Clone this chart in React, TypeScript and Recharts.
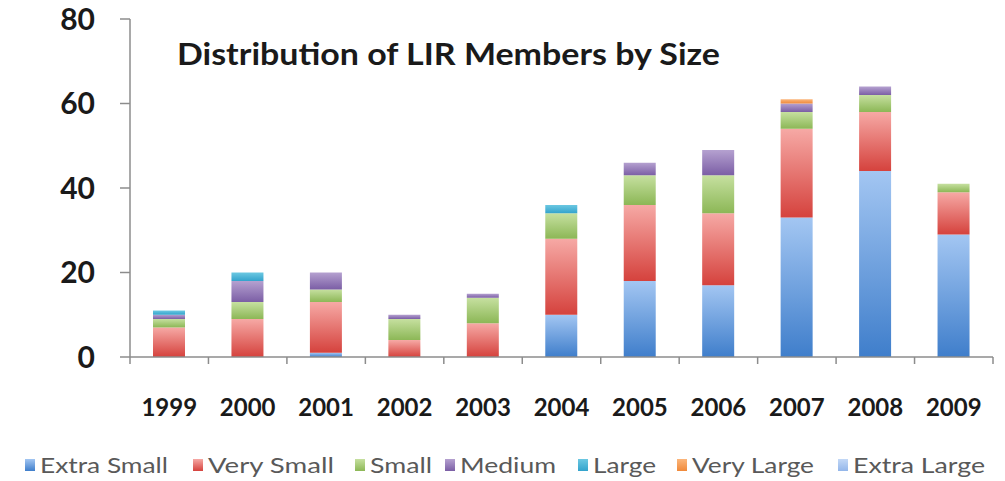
import React from 'react';
import { BarChart, Bar, XAxis, YAxis, Legend } from 'recharts';

const years = ['1999', '2000', '2001', '2002', '2003', '2004', '2005', '2006', '2007', '2008', '2009'];
const extraSmall = [0, 0, 1, 0, 0, 10, 18, 17, 33, 44, 29];
const verySmall = [7, 9, 12, 4, 8, 18, 18, 17, 21, 14, 10];
const small = [2, 4, 3, 5, 6, 6, 7, 9, 4, 4, 2];
const medium = [1, 5, 4, 1, 1, 0, 3, 6, 2, 2, 0];
const large = [1, 2, 0, 0, 0, 2, 0, 0, 0, 0, 0];
const veryLarge = [0, 0, 0, 0, 0, 0, 0, 0, 1, 0, 0];
const extraLarge = [0, 0, 0, 0, 0, 0, 0, 0, 0, 0, 0];
const yTicks = [0, 20, 40, 60, 80];
const title = 'Distribution of LIR Members by Size';

const seriesNames = ['Extra Small', 'Very Small', 'Small', 'Medium', 'Large', 'Very Large', 'Extra Large'];
const seriesKeys = ['xs', 'vs', 's', 'm', 'l', 'vl', 'xl'];
const seriesValues = [extraSmall, verySmall, small, medium, large, veryLarge, extraLarge];
const gradTop = ['#a3c6f2', '#f6a9a5', '#c6e0a0', '#b5a1d0', '#6cc8e2', '#fbb67c', '#c3d8f6'];
const gradBot = ['#3f7ecb', '#d5423d', '#8cb756', '#7b5ea5', '#33a3cc', '#f0893a', '#93b6ea'];

const data = years.map((year, i) => {
  const row: Record<string, string | number> = { year };
  seriesKeys.forEach((k, j) => {
    row[k] = seriesValues[j][i];
  });
  return row;
});

const legendX = [25, 193, 355, 445, 578, 677, 838];
const legendW = [128, 126, 62, 96, 63, 122, 132];

const AXIS = '#8c8c8c';
const FONT = 'Lato, "Open Sans", sans-serif';

const XTick = (props: any) => {
  const { x, y, payload, index } = props;
  const off = payload && payload.offset ? payload.offset : 0;
  return (
    <g>
      {index === 0 && (
        <line x1={x - off} x2={x - off} y1={y} y2={y + 7} stroke={AXIS} strokeWidth={1.5} />
      )}
      <line x1={x + off} x2={x + off} y1={y} y2={y + 7} stroke={AXIS} strokeWidth={1.5} />
      <text x={x} y={y + 59} textAnchor="middle" fontFamily={FONT} fontWeight={700} fontSize={24} fill="#1a1a1a">
        {payload.value}
      </text>
    </g>
  );
};

const YTick = (props: any) => {
  const { x, y, payload } = props;
  return (
    <text x={x} y={y} dy="0.36em" textAnchor="end" fontFamily={FONT} fontWeight={700} fontSize={30} fill="#1a1a1a">
      {payload.value}
    </text>
  );
};

const LegendContent = () => (
  <svg width={1005} height={31} style={{ display: 'block' }}>
    {seriesNames.map((name, i) => (
      <g key={name}>
        <rect x={legendX[i]} y={9} width={10} height={12} fill={`url(#g${i})`} />
        <text
          x={legendX[i] + 15}
          y={23}
          fontFamily={FONT}
          fontSize={21}
          fill="#595959"
          textLength={legendW[i]}
          lengthAdjust="spacingAndGlyphs"
        >
          {name}
        </text>
      </g>
    ))}
  </svg>
);

export default function App() {
  return (
    <div style={{ position: 'absolute', left: 0, top: 0, width: 1005, height: 481, background: '#fff' }}>
      <svg width={0} height={0} style={{ position: 'absolute' }}>
        <defs>
          {seriesKeys.map((k, i) => (
            <linearGradient key={k} id={`g${i}`} x1="0" y1="0" x2="0" y2="1">
              <stop offset="0%" stopColor={gradTop[i]} />
              <stop offset="100%" stopColor={gradBot[i]} />
            </linearGradient>
          ))}
        </defs>
      </svg>
      <BarChart width={1005} height={481} data={data} margin={{ top: 19, right: 12, left: 0, bottom: 64 }}>
        <defs>
          {seriesKeys.map((k, i) => (
            <linearGradient key={k} id={`bg${i}`} x1="0" y1="0" x2="0" y2="1">
              <stop offset="0%" stopColor={gradTop[i]} />
              <stop offset="100%" stopColor={gradBot[i]} />
            </linearGradient>
          ))}
        </defs>
        <XAxis
          dataKey="year"
          height={60}
          tickLine={false}
          tickSize={0}
          tickMargin={0}
          interval={0}
          tick={<XTick />}
          axisLine={{ stroke: AXIS, strokeWidth: 1.5 }}
        />
        <YAxis
          width={130}
          domain={[0, 80]}
          ticks={yTicks}
          interval={0}
          tickSize={10}
          tickMargin={25}
          tick={<YTick />}
          tickLine={{ stroke: AXIS, strokeWidth: 1.5 }}
          axisLine={{ stroke: AXIS, strokeWidth: 1.5 }}
        />
        {seriesKeys.map((k, i) => (
          <Bar
            key={k}
            dataKey={k}
            name={seriesNames[i]}
            stackId="a"
            barSize={32}
            fill={`url(#bg${i})`}
            isAnimationActive={false}
          />
        ))}
        <Legend
          verticalAlign="middle"
          align="center"
          layout="horizontal"
          content={<LegendContent />}
          wrapperStyle={{ position: 'absolute', top: 450, left: 0, width: 1005, height: 31 }}
        />
      </BarChart>
      <svg width={1005} height={90} style={{ position: 'absolute', left: 0, top: 0, pointerEvents: 'none' }}>
        <text
          x={177}
          y={65}
          fontFamily={FONT}
          fontWeight={700}
          fontSize={30}
          fill="#1a1a1a"
          textLength={543}
          lengthAdjust="spacingAndGlyphs"
        >
          {title}
        </text>
      </svg>
    </div>
  );
}
